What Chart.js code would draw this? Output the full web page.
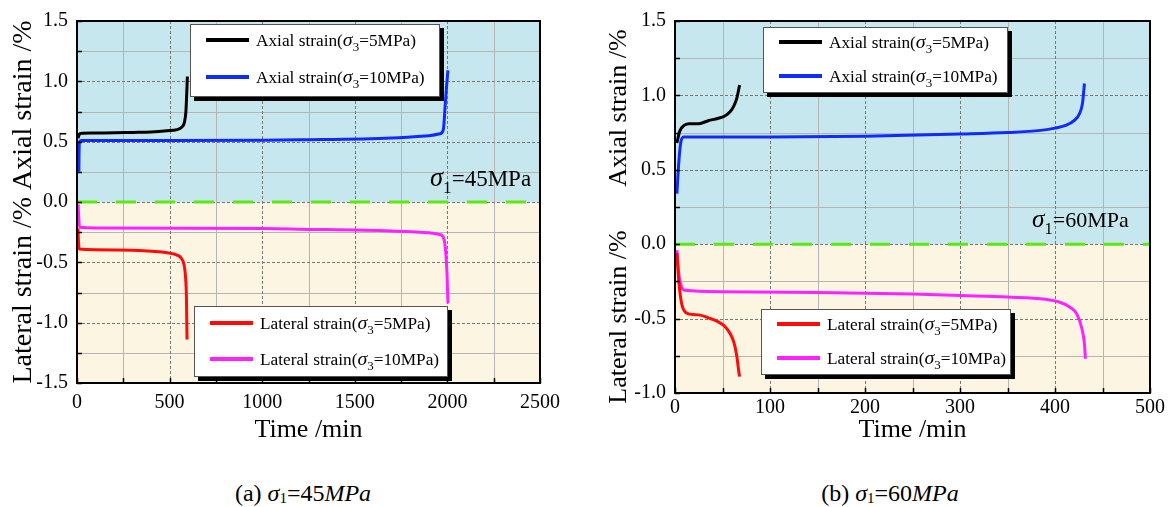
<!DOCTYPE html>
<html>
<head>
<meta charset="utf-8">
<script src="https://cdn.jsdelivr.net/npm/chart.js@4.4.1/dist/chart.umd.min.js"></script>
<style>
  body { margin: 0; background: #fff; width: 1169px; height: 507px; position: relative; overflow: hidden; font-family: "Liberation Serif", serif; }
  canvas { position: absolute; top: 0; }
  #chartA { left: 0; }
  #chartB { left: 585px; }
  .cap { position: absolute; top: 479px; font-size: 24px; line-height: 28px; transform: translateX(-50%); white-space: nowrap; color: #000; }
  .cap sub { font-size: 15px; vertical-align: -2px; }
</style>
</head>
<body>
<canvas id="chartA" width="590" height="450"></canvas>
<canvas id="chartB" width="584" height="450"></canvas>
<div class="cap" style="left:303px">(a) <i>σ</i><sub>1</sub>=45<i>MPa</i></div>
<div class="cap" style="left:890px">(b) <i>σ</i><sub>1</sub>=60<i>MPa</i></div>
<script>
const FONT = '"Liberation Serif", "Times New Roman", serif';

const seriesLabels = ['Axial strain(σ3=5MPa)', 'Axial strain(σ3=10MPa)', 'Lateral strain(σ3=5MPa)', 'Lateral strain(σ3=10MPa)'];
const seriesColors = ['#000000', '#0f2bff', '#ff0a0a', '#ff22ff'];

// (a) sigma1 = 45 MPa
const timeTicksA = [0, 500, 1000, 1500, 2000, 2500];
const strainTicksA = [-1.5, -1.0, -0.5, 0.0, 0.5, 1.0, 1.5];
const tAxial5A = [5, 15, 30, 100, 200, 300, 400, 486, 540, 565, 580, 588, 592, 596];
const vAxial5A = [0.53, 0.565, 0.57, 0.572, 0.574, 0.577, 0.58, 0.59, 0.6, 0.62, 0.66, 0.75, 0.88, 1.04];
const tAxial10A = [10, 11, 13, 25, 500, 1000, 1200, 1700, 1900, 1960, 1978, 1988, 1995, 2003];
const vAxial10A = [0.25, 0.4, 0.5, 0.51, 0.51, 0.512, 0.515, 0.53, 0.55, 0.565, 0.6, 0.8, 0.95, 1.09];
const tLateral5A = [5, 8, 12, 100, 300, 486, 540, 565, 578, 586, 591, 594];
const vLateral5A = [-0.22, -0.33, -0.39, -0.395, -0.4, -0.42, -0.44, -0.47, -0.52, -0.62, -0.8, -1.14];
const tLateral10A = [6, 9, 14, 100, 1000, 1200, 1700, 1900, 1960, 1980, 1990, 1998, 2003];
const vLateral10A = [-0.02, -0.12, -0.21, -0.215, -0.22, -0.225, -0.24, -0.255, -0.27, -0.3, -0.4, -0.6, -0.84];

// (b) sigma1 = 60 MPa
const timeTicksB = [0, 100, 200, 300, 400, 500];
const strainTicksB = [-1.0, -0.5, 0.0, 0.5, 1.0, 1.5];
const tAxial5B = [2, 5, 10, 15, 25, 35, 45, 52, 58, 62, 65, 68];
const vAxial5B = [0.68, 0.76, 0.8, 0.81, 0.81, 0.83, 0.845, 0.86, 0.89, 0.93, 0.98, 1.07];
const tAxial10B = [2, 4, 6, 9, 50, 100, 200, 300, 350, 385, 400, 412, 420, 426, 429, 431];
const vAxial10B = [0.34, 0.55, 0.68, 0.72, 0.72, 0.72, 0.725, 0.74, 0.75, 0.765, 0.78, 0.8, 0.83, 0.88, 0.95, 1.08];
const tLateral5B = [2, 4, 7, 10, 15, 25, 35, 45, 52, 58, 62, 65, 67, 68];
const vLateral5B = [-0.06, -0.25, -0.4, -0.45, -0.47, -0.475, -0.495, -0.52, -0.55, -0.6, -0.66, -0.75, -0.85, -0.89];
const tLateral10B = [2, 4, 7, 10, 50, 150, 250, 300, 350, 390, 405, 415, 423, 428, 431, 432];
const vLateral10B = [-0.04, -0.2, -0.29, -0.31, -0.32, -0.325, -0.335, -0.345, -0.355, -0.37, -0.39, -0.42, -0.47, -0.56, -0.67, -0.77];

function zip(ts, vs) {
  return ts.map((t, i) => ({ x: t, y: vs[i] }));
}

function mids(vals) {
  const out = [];
  for (let i = 0; i < vals.length - 1; i++) out.push((vals[i] + vals[i + 1]) / 2);
  return out;
}

// text with greek sigma followed by a subscript digit
function drawRich(ctx, text, x, y, size) {
  const parts = text.split(/(σ\d)/);
  ctx.textBaseline = 'alphabetic';
  ctx.textAlign = 'left';
  for (const p of parts) {
    if (!p) continue;
    if (/^σ\d$/.test(p)) {
      ctx.font = `italic ${size * 1.15}px ${FONT}`;
      ctx.fillText('σ', x, y);
      x += ctx.measureText('σ').width;
      ctx.font = `${size * 0.75}px ${FONT}`;
      ctx.fillText(p[1], x, y + size * 0.3);
      x += ctx.measureText(p[1]).width;
    } else {
      ctx.font = `${size}px ${FONT}`;
      ctx.fillText(p, x, y);
      x += ctx.measureText(p).width;
    }
  }
}

const framePlugin = {
  id: 'frame',
  beforeDatasetsDraw(chart) {
    const { ctx, chartArea: a, scales: { x, y } } = chart;
    const y0 = y.getPixelForValue(0);
    ctx.save();
    ctx.fillStyle = '#c7e7ef';
    ctx.fillRect(a.left, a.top, a.width, y0 - a.top);
    ctx.fillStyle = '#fcf5e2';
    ctx.fillRect(a.left, y0, a.width, a.bottom - y0);

    const xs = x.ticks.map(t => t.value);
    const ys = y.ticks.map(t => t.value);
    const px = v => Math.round(x.getPixelForValue(v)) + 0.5;
    const py = v => Math.round(y.getPixelForValue(v)) + 0.5;

    ctx.lineWidth = 1;
    ctx.strokeStyle = '#b5b5b5';
    ctx.setLineDash([]);
    ctx.beginPath();
    mids(xs).forEach(v => { ctx.moveTo(px(v), a.top); ctx.lineTo(px(v), a.bottom); });
    mids(ys).forEach(v => { ctx.moveTo(a.left, py(v)); ctx.lineTo(a.right, py(v)); });
    ctx.stroke();

    ctx.strokeStyle = '#777';
    ctx.setLineDash([3, 2]);
    ctx.beginPath();
    xs.forEach(v => { ctx.moveTo(px(v), a.top); ctx.lineTo(px(v), a.bottom); });
    ys.forEach(v => { ctx.moveTo(a.left, py(v)); ctx.lineTo(a.right, py(v)); });
    ctx.stroke();

    // zero line
    ctx.strokeStyle = '#5ce812';
    ctx.lineWidth = 3;
    ctx.setLineDash([20, 19]);
    ctx.beginPath();
    ctx.moveTo(a.left, y0);
    ctx.lineTo(a.right, y0);
    ctx.stroke();
    ctx.restore();
  },
  afterDatasetsDraw(chart, args, o) {
    const { ctx, chartArea: a, scales: { x, y } } = chart;
    ctx.save();
    ctx.setLineDash([]);

    // inward ticks on left and bottom axes
    const xs = x.ticks.map(t => t.value);
    const ys = y.ticks.map(t => t.value);
    ctx.strokeStyle = '#000';
    ctx.lineWidth = 1.5;
    ctx.beginPath();
    xs.concat(mids(xs)).forEach(v => {
      const p = Math.round(x.getPixelForValue(v)) + 0.5;
      ctx.moveTo(p, a.bottom); ctx.lineTo(p, a.bottom - 5);
    });
    ys.concat(mids(ys)).forEach(v => {
      const p = Math.round(y.getPixelForValue(v)) + 0.5;
      ctx.moveTo(a.left, p); ctx.lineTo(a.left + 5, p);
    });
    ctx.stroke();

    // frame
    ctx.lineWidth = 2;
    ctx.strokeRect(a.left, a.top, a.width, a.height);

    // sigma1 annotation
    ctx.fillStyle = '#000';
    drawRich(ctx, o.note.text, o.note.x, o.note.y, o.note.size);

    // legends
    o.legends.forEach(lg => {
      ctx.fillStyle = '#000';
      ctx.fillRect(lg.x + 4, lg.y + 4, lg.w, lg.h);
      ctx.fillStyle = '#fff';
      ctx.fillRect(lg.x, lg.y, lg.w, lg.h);
      ctx.strokeStyle = '#555';
      ctx.lineWidth = 1;
      ctx.strokeRect(lg.x + 0.5, lg.y + 0.5, lg.w - 1, lg.h - 1);
      lg.items.forEach((di, k) => {
        const ds = chart.data.datasets[di];
        const ry = lg.y + lg.row0 + k * lg.gap;
        ctx.strokeStyle = ds.borderColor;
        ctx.lineWidth = 4;
        ctx.beginPath();
        ctx.moveTo(lg.x + 16, ry);
        ctx.lineTo(lg.x + 59, ry);
        ctx.stroke();
        ctx.fillStyle = '#000';
        drawRich(ctx, ds.label, lg.x + 66, ry + 6, 17.3);
      });
    });

    // separate vertical axis titles
    (o.sideTitles || []).forEach(st => {
      ctx.save();
      ctx.translate(st.x, st.y);
      ctx.rotate(-Math.PI / 2);
      ctx.fillStyle = '#000';
      ctx.font = `${st.size}px ${FONT}`;
      ctx.textAlign = 'center';
      ctx.textBaseline = 'middle';
      ctx.fillText(st.text, 0, 0);
      ctx.restore();
    });
    ctx.restore();
  }
};

function makeChart(id, series, xTicks, yTicks, box, yTitle, frameOpts) {
  const canvas = document.getElementById(id);
  const datasets = series.map((s, i) => ({
    label: seriesLabels[i],
    data: zip(s[0], s[1]),
    borderColor: seriesColors[i],
    borderWidth: 3,
    pointRadius: 0,
    cubicInterpolationMode: 'monotone',
    fill: false
  }));
  return new Chart(canvas, {
    type: 'line',
    data: { datasets },
    options: {
      responsive: false,
      animation: false,
      devicePixelRatio: 1,
      layout: { padding: { top: box.top, right: canvas.width - box.right, left: 0, bottom: 0 } },
      plugins: { legend: { display: false }, tooltip: { enabled: false }, frame: frameOpts },
      scales: {
        x: {
          type: 'linear',
          min: xTicks[0],
          max: xTicks[xTicks.length - 1],
          afterBuildTicks: s => { s.ticks = xTicks.map(v => ({ value: v })); },
          afterFit: s => { s.height = canvas.height - box.bottom; },
          grid: { display: false, drawTicks: false },
          border: { display: false },
          ticks: { color: '#000', font: { family: FONT, size: 20 }, padding: box.xPad, maxRotation: 0, callback: v => String(v) },
          title: { display: true, text: 'Time /min', color: '#000', font: { family: FONT, size: 26 }, padding: 4 }
        },
        y: {
          type: 'linear',
          min: yTicks[0],
          max: yTicks[yTicks.length - 1],
          afterBuildTicks: s => { s.ticks = yTicks.map(v => ({ value: v })); },
          afterFit: s => { s.width = box.left; },
          grid: { display: false, drawTicks: false },
          border: { display: false },
          ticks: { color: '#000', font: { family: FONT, size: 20 }, padding: 9, callback: v => v.toFixed(1) },
          title: { display: !!yTitle, text: yTitle || '', color: '#000', font: { family: FONT, size: 28 }, padding: 7 }
        }
      }
    },
    plugins: [framePlugin]
  });
}

makeChart('chartA',
  [[tAxial5A, vAxial5A], [tAxial10A, vAxial10A], [tLateral5A, vLateral5A], [tLateral10A, vLateral10A]],
  timeTicksA, strainTicksA,
  { left: 77, right: 540, top: 17, bottom: 383, xPad: 8 },
  'Lateral strain /% Axial strain /%',
  {
    note: { text: 'σ1=45MPa', x: 430, y: 186, size: 23 },
    legends: [
      { x: 190, y: 24, w: 250, h: 73, items: [0, 1], row0: 16, gap: 37 },
      { x: 194, y: 306, w: 254, h: 71, items: [2, 3], row0: 17, gap: 36 }
    ]
  });

makeChart('chartB',
  [[tAxial5B, vAxial5B], [tAxial10B, vAxial10B], [tLateral5B, vLateral5B], [tLateral10B, vLateral10B]],
  timeTicksB, strainTicksB,
  { left: 90, right: 565, top: 17, bottom: 393, xPad: 3 },
  null,
  {
    note: { text: 'σ1=60MPa', x: 447, y: 227, size: 22 },
    legends: [
      { x: 178, y: 27, w: 245, h: 66, items: [0, 1], row0: 15, gap: 34 },
      { x: 176, y: 309, w: 250, h: 66, items: [2, 3], row0: 15, gap: 34 }
    ],
    sideTitles: [
      { text: 'Axial strain /%', x: 34, y: 108, size: 26 },
      { text: 'Lateral strain /%', x: 34, y: 317, size: 26 }
    ]
  });
</script>
</body>
</html>
